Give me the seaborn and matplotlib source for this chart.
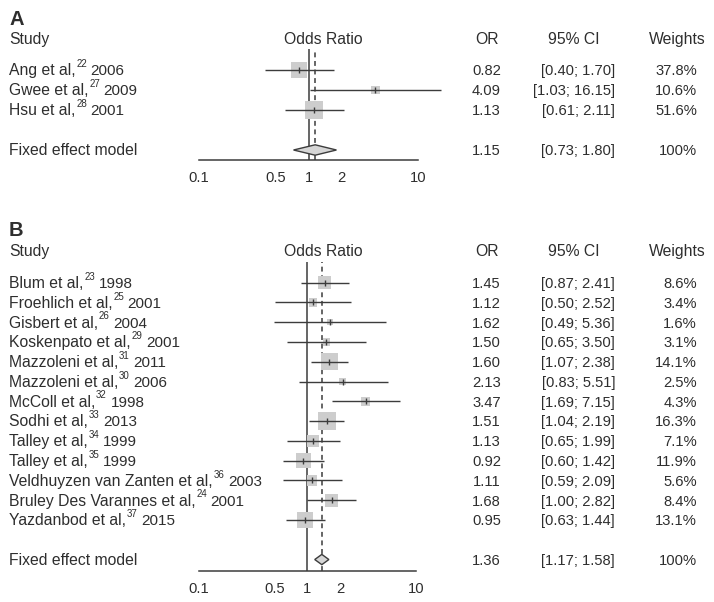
import numpy as np
import pandas as pd
import matplotlib
matplotlib.use('Agg')
import matplotlib.pyplot as plt
import matplotlib.transforms as mtransforms
import seaborn as sns

# panel A
a_study = ['Ang et al,', 'Gwee et al,', 'Hsu et al,']
a_ref = ['22', '27', '28']
a_year = ['2006', '2009', '2001']
a_or = [0.82, 4.09, 1.13]
a_lo = [0.40, 1.03, 0.61]
a_hi = [1.70, 16.15, 2.11]
a_w = [37.8, 10.6, 51.6]
a_fixed = [1.15, 0.73, 1.80]

# panel B
b_study = ['Blum et al,', 'Froehlich et al,', 'Gisbert et al,', 'Koskenpato et al,',
           'Mazzoleni et al,', 'Mazzoleni et al,', 'McColl et al,', 'Sodhi et al,',
           'Talley et al,', 'Talley et al,', 'Veldhuyzen van Zanten et al,',
           'Bruley Des Varannes et al,', 'Yazdanbod et al,']
b_ref = ['23', '25', '26', '29', '31', '30', '32', '33', '34', '35', '36', '24', '37']
b_year = ['1998', '2001', '2004', '2001', '2011', '2006', '1998', '2013', '1999',
          '1999', '2003', '2001', '2015']
b_or = [1.45, 1.12, 1.62, 1.50, 1.60, 2.13, 3.47, 1.51, 1.13, 0.92, 1.11, 1.68, 0.95]
b_lo = [0.87, 0.50, 0.49, 0.65, 1.07, 0.83, 1.69, 1.04, 0.65, 0.60, 0.59, 1.00, 0.63]
b_hi = [2.41, 2.52, 5.36, 3.50, 2.38, 5.51, 7.15, 2.19, 1.99, 1.42, 2.09, 2.82, 1.44]
b_w = [8.6, 3.4, 1.6, 3.1, 14.1, 2.5, 4.3, 16.3, 7.1, 11.9, 5.6, 8.4, 13.1]
b_fixed = [1.36, 1.17, 1.58]

ticks = [0.1, 0.5, 1, 2, 10]
tick_labels = ['0.1', '0.5', '1', '2', '10']

W, H = 714, 602
TXT = '#2e2e2e'
LINE = '#3c3c3c'
BOX = '#cdcdcd'
FS = 11.3
FN = 10.6

sns.set_style('white')
plt.rcParams['font.family'] = ['Liberation Sans', 'DejaVu Sans']

fig = plt.figure(figsize=(W / 100, H / 100), dpi=100)


def put(ax, xpx, row, s, ha='left', size=FS, dy=5.3, **kw):
    tr = mtransforms.blended_transform_factory(fig.transFigure, ax.transData)
    tr = tr + mtransforms.ScaledTranslation(0, -dy / 100, fig.dpi_scale_trans)
    return ax.text(xpx / W, row, s, transform=tr, ha=ha, va='baseline',
                   fontsize=size, color=TXT, **kw)


def study_label(ax, row, name, ref, year):
    t1 = put(ax, 9, row, name)
    t2 = ax.annotate(ref, xy=(1, 1), xycoords=t1, xytext=(0.5, 3.0),
                     textcoords='offset points', fontsize=7.0, va='top',
                     ha='left', color=TXT)
    ax.annotate(year, xy=(1, 0), xycoords=(t2, t1), xytext=(2.6, 0),
                textcoords='offset points', fontsize=11.0, va='bottom',
                ha='left', color=TXT)


def panel(rect, letter, studies, refs, years, ors, los, his, ws, fixed,
          top, bottom, head_row, letter_row):
    ax = fig.add_axes(rect)
    df = pd.DataFrame({'or': ors, 'lo': los, 'hi': his, 'w': ws})
    df['row'] = np.arange(len(df))
    fx_row = len(df) + 1

    ax.set_xscale('log')
    ax.set_xlim(0.1, 10)
    ax.set_ylim(bottom, top)

    ax.axvline(1, color=LINE, lw=1.1, zorder=1)
    ax.axvline(fixed[0], color=LINE, lw=1.1, ls=(0, (3.2, 2.4)), zorder=1)

    sns.scatterplot(data=df, x='or', y='row', size='w', sizes=(0, 165),
                    size_norm=(0, df['w'].max()), marker='s', color=BOX,
                    edgecolor='none', linewidth=0, legend=False, ax=ax,
                    zorder=2, clip_on=False)
    ax.hlines(df['row'], df['lo'], df['hi'], color=LINE, lw=1.0, zorder=3,
              clip_on=False)
    ax.plot(df['or'], df['row'], ls='none', marker='|', ms=5, mew=1.0,
            color=LINE, zorder=4)

    est, lo, hi = fixed
    h = 0.26
    ax.fill([lo, est, hi, est], [fx_row, fx_row - h, fx_row, fx_row + h],
            facecolor='#d6d6d6', edgecolor=LINE, lw=1.0, zorder=5)

    for s in ['top', 'left', 'right']:
        ax.spines[s].set_visible(False)
    ax.spines['bottom'].set_bounds(0.1, 10)
    ax.spines['bottom'].set_color(LINE)
    ax.spines['bottom'].set_linewidth(1.1)
    ax.set_xticks(ticks)
    ax.set_xticklabels(tick_labels)
    ax.minorticks_off()
    ax.tick_params(axis='x', direction='in', length=3.5, width=1.0, color=LINE,
                   labelsize=10.6, labelcolor=TXT, pad=8)
    ax.set_yticks([])
    ax.set_xlabel('')
    ax.set_ylabel('')
    ax.patch.set_alpha(0)

    put(ax, 9, letter_row, letter, size=14.5, weight='bold', dy=7)
    put(ax, 9, head_row, 'Study')
    put(ax, 323, head_row, 'Odds Ratio', ha='center')
    put(ax, 487, head_row, 'OR', ha='center')
    put(ax, 574, head_row, '95% CI', ha='center')
    put(ax, 677, head_row, 'Weights', ha='center')

    for i in range(len(df)):
        study_label(ax, i, studies[i], refs[i], years[i])
        put(ax, 501, i, f'{ors[i]:.2f}', ha='right', size=FN)
        put(ax, 615, i, f'[{los[i]:.2f}; {his[i]:.2f}]', ha='right', size=FN)
        put(ax, 697, i, f'{ws[i]:.1f}%', ha='right', size=FN)

    put(ax, 9, fx_row, 'Fixed effect model')
    put(ax, 501, fx_row, f'{est:.2f}', ha='right', size=FN)
    put(ax, 615, fx_row, f'[{lo:.2f}; {hi:.2f}]', ha='right', size=FN)
    put(ax, 697, fx_row, '100%', ha='right', size=FN)
    return ax


panel([199 / W, 1 - 160 / H, 219 / W, 111 / H], 'A', a_study, a_ref, a_year,
      a_or, a_lo, a_hi, a_w, a_fixed, top=-1.05, bottom=4.5,
      head_row=-1.55, letter_row=-2.6)
panel([199 / W, 1 - 571 / H, 216.7 / W, 309.3 / H], 'B', b_study, b_ref, b_year,
      b_or, b_lo, b_hi, b_w, b_fixed, top=-1.06, bottom=14.58,
      head_row=-1.63, letter_row=-2.73)

fig.savefig('out.png', dpi=100)
